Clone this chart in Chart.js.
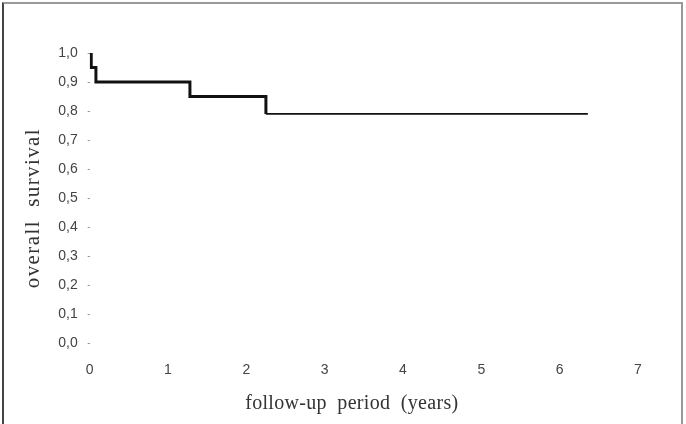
<!DOCTYPE html>
<html lang="en">
<head>
<meta charset="UTF-8">
<title>Overall survival</title>
<script src="https://cdn.jsdelivr.net/npm/chart.js"></script>
<style>
  body { margin: 0; background: #fff; }
  #wrap { position: relative; width: 686px; height: 424px; }
  #frame {
    position: absolute; left: 2px; top: 2px; width: 677px; height: 440px;
    border-top: 2px solid #999; border-right: 2px solid #999; border-left: 2px solid #444;
    pointer-events: none;
  }
</style>
</head>
<body>
<div id="wrap">
  <canvas id="myChart" width="686" height="424"></canvas>
  <div id="frame"></div>
</div>
<script>
  // Kaplan-Meier steps: time (years) and survival after each step
  const stepYears = [0, 0.02, 0.08, 1.28, 2.25, 6.36];
  const survival  = [1.0, 0.95, 0.90, 0.85, 0.79, 0.79];
  const xTicks = [0, 1, 2, 3, 4, 5, 6, 7];
  const yTicks = [0, 0.1, 0.2, 0.3, 0.4, 0.5, 0.6, 0.7, 0.8, 0.9, 1.0];

  const puntos = stepYears.map((t, i) => ({ x: t, y: survival[i] }));

  // titles in the picture are spaced out and a bit off-centre
  const titleStyle = {
    x: { spacing: '0.3px', dx: -12, dy: 2 },
    y: { spacing: '1.4px', dx: 0, dy: 10 }
  };
  const spacedTitles = {
    id: 'spacedTitles',
    afterLayout(chart) {
      Object.keys(titleStyle).forEach(id => {
        const scale = chart.scales[id];
        if (!scale || scale._wrapped) return;
        const orig = scale.drawTitle;
        scale.drawTitle = function () {
          const ctx = this.ctx, s = titleStyle[id];
          ctx.save();
          ctx.letterSpacing = s.spacing;
          ctx.translate(s.dx, s.dy);
          orig.apply(this, arguments);
          ctx.restore();
        };
        scale._wrapped = true;
      });
    }
  };

  new Chart(document.getElementById('myChart'), {
    type: 'line',
    data: {
      datasets: [{
        data: puntos,
        stepped: 'before',
        borderColor: '#111',
        borderWidth: 3,
        pointRadius: 0,
        fill: false,
        segment: {
          // the last (long) segment looks thinner in the picture
          borderWidth: ctx => ctx.p0DataIndex >= 4 ? 1.8 : 3
        }
      }]
    },
    plugins: [spacedTitles],
    options: {
      responsive: false,
      animation: false,
      layout: { padding: { top: 53, right: 48, bottom: 10, left: 21 } },
      plugins: { legend: { display: false }, tooltip: { enabled: false } },
      scales: {
        x: {
          type: 'linear', min: 0, max: 7,
          afterBuildTicks: axis => { axis.ticks = xTicks.map(v => ({ value: v })); },
          grid: { display: false },
          border: { display: false },
          ticks: { color: '#444', font: { family: 'Liberation Sans', size: 14 }, padding: 11, maxRotation: 0 },
          title: {
            display: true,
            text: 'follow-up  period  (years)',
            color: '#333',
            font: { family: 'Liberation Serif', size: 20 },
            padding: { top: 0, bottom: 0 }
          }
        },
        y: {
          type: 'linear', min: 0, max: 1,
          afterBuildTicks: axis => { axis.ticks = yTicks.map(v => ({ value: v })); },
          grid: { display: true, drawOnChartArea: false, drawTicks: true, tickLength: 2, color: '#999' },
          border: { display: false },
          ticks: {
            color: '#444', font: { family: 'Liberation Sans', size: 14 }, padding: 10,
            callback: v => v.toFixed(1).replace('.', ',')
          },
          title: {
            display: true,
            text: 'overall  survival',
            color: '#333',
            font: { family: 'Liberation Serif', size: 21 },
            padding: { top: 0, bottom: 2 }
          }
        }
      }
    }
  });
</script>
</body>
</html>
